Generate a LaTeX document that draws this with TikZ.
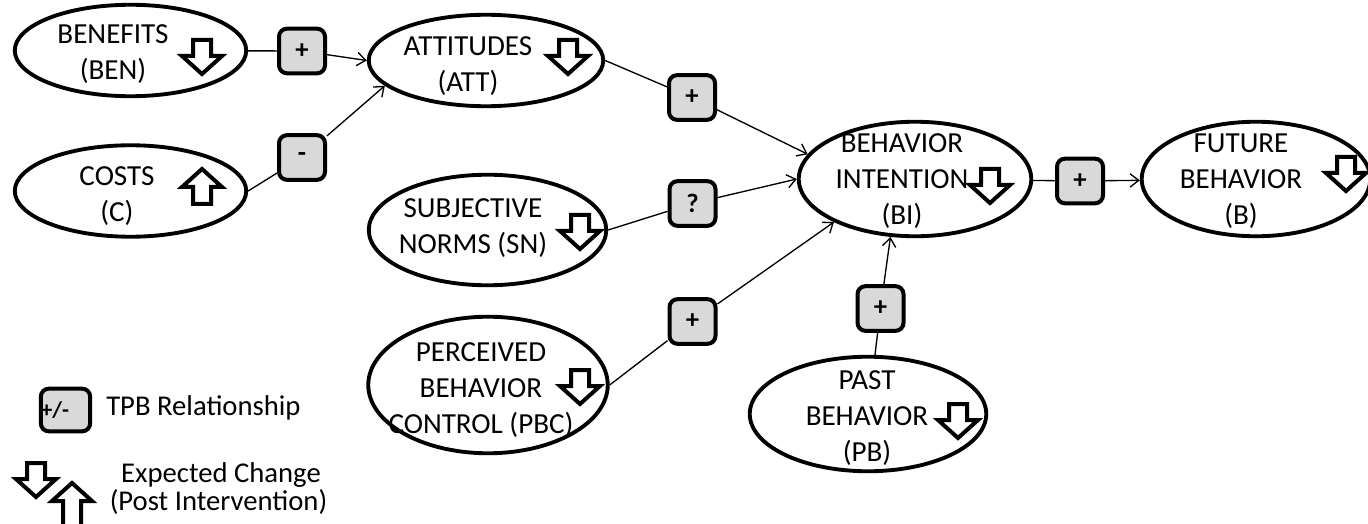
\documentclass[tikz,border=0pt]{standalone}
\usepackage{fontspec}
\setmainfont{Carlito}
\usetikzlibrary{shapes.geometric,arrows.meta}
\definecolor{boxgray}{HTML}{D9D9D9}
\begin{document}
\begin{tikzpicture}[x=0.75pt,y=-0.75pt,
  oval/.style={ellipse, draw, line width=2.9pt, inner sep=0pt},
  rel/.style={draw, line width=3pt, fill=boxgray, rounded corners=6pt,
    minimum width=34.5pt, minimum height=33.5pt, inner sep=0pt,
    font=\bfseries\fontsize{20}{22}\selectfont},
  lbl/.style={inner sep=0pt, align=center, font=\fontsize{21.8}{27}\selectfont},
  conn/.style={line width=1pt},
  arr/.style={conn, -{Straight Barb[length=6.5pt,width=10pt]}},
  hollow/.style={draw, fill=white, line width=3pt, line join=miter},
  downarr/.pic={\path[hollow] (-9,2) -- (9,2) -- (9,18) -- (20,18) -- (0,36) -- (-20,18) -- (-9,18) -- cycle;},
  uparr/.pic={\path[hollow] (0,2) -- (20,20) -- (9,20) -- (9,37) -- (-9,37) -- (-9,20) -- (-20,20) -- cycle;},
  legup/.pic={\path[hollow] (0,2) -- (20,20) -- (9,20) -- (9,45) -- (-9,45) -- (-9,20) -- (-20,20) -- cycle;}
]
\useasboundingbox (0,0) rectangle (1368,524);

% ellipses
\node[oval, minimum width=173.6pt, minimum height=68.6pt] (ben) at (130.5,50.5) {};
\node[oval, minimum width=173.6pt, minimum height=68.6pt] (costs) at (130.5,191) {};
\node[oval, minimum width=175.9pt, minimum height=68.6pt] (att) at (486,60.5) {};
\node[oval, minimum width=178.1pt, minimum height=82.9pt] (sn) at (487.5,230) {};
\node[oval, minimum width=179.6pt, minimum height=102.4pt] (pbc) at (488,385) {};
\node[oval, minimum width=174.4pt, minimum height=85.9pt] (bi) at (915,179) {};
\node[oval, minimum width=171.4pt, minimum height=85.9pt] (fut) at (1256,179) {};
\node[oval, minimum width=177.4pt, minimum height=85.9pt] (pb) at (868,414) {};

% texts
\node[lbl] (bent) at (113,54) {BENEFITS\\(BEN)};
\node[lbl] (costst) at (117,196) {COSTS\\(C)};
\node[lbl] (attt) at (468,66) {ATTITUDES\\(ATT)};
\node[lbl] (snt) at (473,228) {SUBJECTIVE\\NORMS (SN)};
\node[lbl] (pbct) at (481,390) {PERCEIVED\\BEHAVIOR\\CONTROL (PBC)};
\node[lbl] (bit) at (902,181) {BEHAVIOR\\INTENTION\\(BI)};
\node[lbl] (futt) at (1241,181) {FUTURE\\BEHAVIOR\\(B)};
\node[lbl] (pbt) at (867,418) {PAST\\BEHAVIOR\\(PB)};

% hollow change arrows
\pic at (202,38) {downarr};
\pic at (202,167) {uparr};
\pic at (568,38) {downarr};
\pic at (580,213) {downarr};
\pic at (580,368) {downarr};
\pic at (990,167) {downarr};
\pic at (1346,155) {downarr};
\pic at (958,402) {downarr};

% relationship boxes
\node[rel] (b1) at (302,51) {+};
\node[rel] (b2) at (302,157.5) {-};
\node[rel] (b3) at (692,97.5) {+};
\node[rel] (b4) at (692.5,203.5) {?};
\node[rel] (b5) at (692.5,321.5) {+};
\node[rel] (b6) at (1080,181) {+};
\node[rel] (b7) at (880.5,308.5) {+};

% connectors
\draw[conn] (ben) -- (b1);
\draw[arr] (b1) -- (att.west);
\draw[conn] (costs.east) -- (b2);
\draw[arr] (b2) -- (att.194);
\draw[conn] (att.east) -- (b3);
\draw[arr] (b3) -- (bi.167);
\draw[conn] (sn.east) -- (b4);
\draw[arr] (b4) -- (bi.west);
\draw[conn] (pbc.east) -- (b5);
\draw[arr] (b5) -- (bi.208);
\draw[conn] (pb) -- (b7);
\draw[arr] (b7) -- (bi.247);
\draw[conn] (bi) -- (b6);
\draw[arr] (b6) -- (fut);

% legend
\node[rel, minimum width=37pt, minimum height=32pt] (lg) at (65.5,410) {};
\node[inner sep=0pt, font=\bfseries\fontsize{17}{20}\selectfont] (lgt) at (55,410) {+/-};
\node[anchor=base west, inner sep=0pt, font=\fontsize{21.5}{27}\selectfont] (lgrel) at (106,415) {TPB Relationship};
\pic at (36,461) {downarr};
\pic at (72,481) {legup};
\node[anchor=base, inner sep=0pt, font=\fontsize{21.5}{27}\selectfont] (lgexp) at (221,482) {Expected Change};
\node[anchor=base, inner sep=0pt, font=\fontsize{21.5}{27}\selectfont] (lgpost) at (218.5,510) {(Post Intervention)};
\end{tikzpicture}
\end{document}
